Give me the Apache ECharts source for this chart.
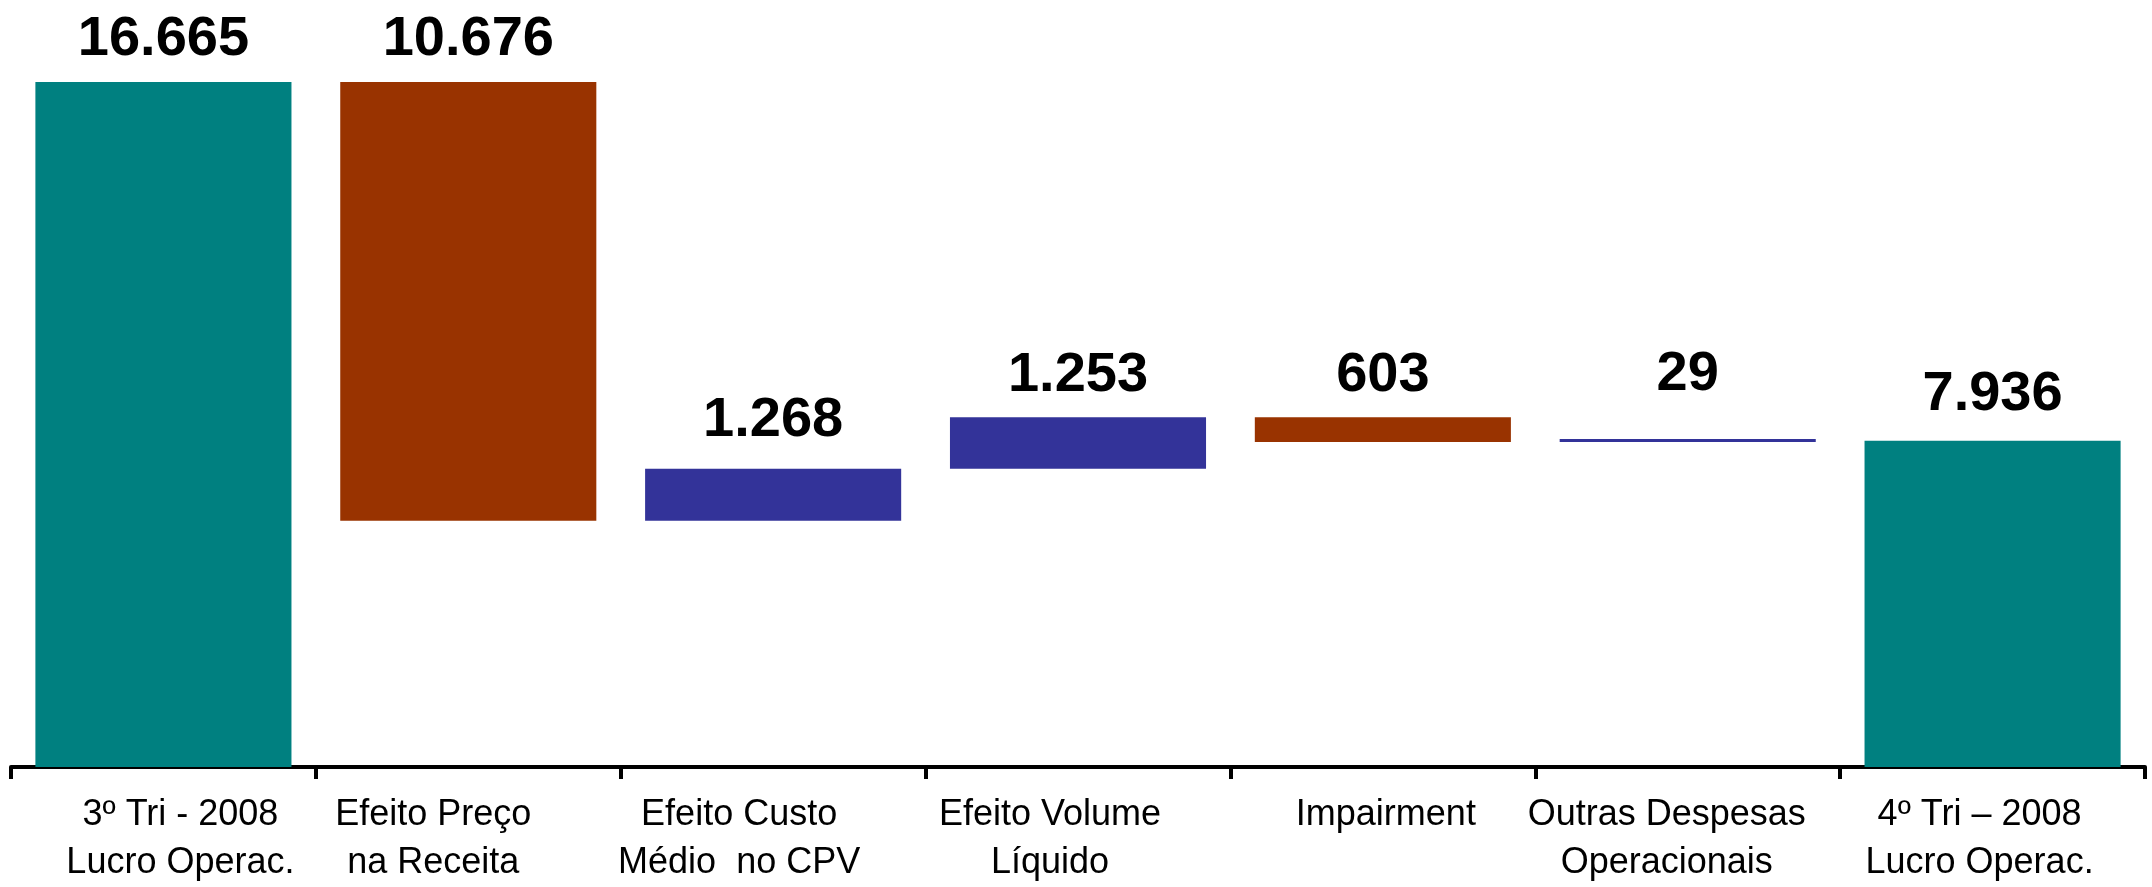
<!DOCTYPE html>
<html>
<head>
<meta charset="utf-8">
<script src="https://cdn.jsdelivr.net/npm/echarts@6/dist/echarts.min.js"></script>
<style>
  html, body { margin: 0; padding: 0; background: #fff; }
  #chart { width: 2152px; height: 887px; }
</style>
</head>
<body>
<div id="chart"></div>
<script>
// categorias do gráfico (ponte do lucro operacional)
const categories = [
  '3º Tri - 2008\nLucro Operac.',
  'Efeito Preço\nna Receita',
  'Efeito Custo\nMédio  no CPV',
  'Efeito Volume\nLíquido',
  'Impairment',
  'Outras Despesas\nOperacionais',
  '4º Tri – 2008\nLucro Operac.'
]

// valores
const values = [16665, 10676, 1268, 1253, 603, 29, 7936]

// tipo de cada barra: total, aumento ou redução
const kinds = ['total', 'down', 'up', 'up', 'down', 'up', 'total']

// rótulos como aparecem no gráfico
const valueLabels = ['16.665', '10.676', '1.268', '1.253', '603', '29', '7.936']

const colors = {
  total: '#008080',
  down: '#993300',
  up: '#333399'
}

// deslocamento horizontal de cada rótulo do eixo
const labelShift = [17, -35, -34, -28, 3, -21, -13]
// deslocamento vertical extra dos rótulos de valor
const valueLift = [0, 0, 6, 0, 0, 22, 4]

// calcula a base invisível das barras (cascata)
const base = []
let running = 0
values.forEach((v, i) => {
  if (kinds[i] === 'total') {
    base.push(0)
    running = v
  } else if (kinds[i] === 'up') {
    base.push(running)
    running += v
  } else {
    running -= v
    base.push(running)
  }
})

const chart = echarts.init(document.getElementById('chart'))

const option = {
  animation: false,
  grid: {
    left: 11,
    right: 7,
    top: 27,
    bottom: 110
  },
  xAxis: {
    type: 'category',
    data: categories.map((c, i) => ({
      value: c,
      textStyle: {
        padding: labelShift[i] > 0 ? [0, 0, 0, labelShift[i] * 2] : [0, -labelShift[i] * 2, 0, 0]
      }
    })),
    axisLine: {
      show: true,
      lineStyle: { color: '#000', width: 4 }
    },
    axisTick: {
      show: true,
      length: 12,
      lineStyle: { color: '#000', width: 4 }
    },
    axisLabel: {
      interval: 0,
      margin: 24,
      color: '#000',
      fontSize: 36,
      lineHeight: 48,
      fontFamily: '"Liberation Sans Narrow", "Arial Narrow", "Liberation Sans", Arial, sans-serif',
      verticalAlign: 'top'
    }
  },
  yAxis: {
    type: 'value',
    min: 0,
    max: 18000,
    show: false,
    splitLine: { show: false }
  },
  series: [
    {
      name: 'base',
      type: 'bar',
      stack: 'ponte',
      barCategoryGap: '16%',
      itemStyle: { color: 'transparent' },
      emphasis: { disabled: true },
      data: base
    },
    {
      name: 'valor',
      type: 'bar',
      stack: 'ponte',
      barCategoryGap: '16%',
      barMinHeight: 3,
      data: values.map((v, i) => ({
        value: v,
        itemStyle: { color: colors[kinds[i]] },
        label: {
          show: true,
          position: 'top',
          distance: 14 + valueLift[i],
          formatter: valueLabels[i],
          color: '#000',
          fontSize: 56,
          fontWeight: 'bold',
          fontFamily: '"Liberation Sans", Arial, sans-serif'
        }
      }))
    }
  ]
}

chart.setOption(option)
</script>
</body>
</html>
